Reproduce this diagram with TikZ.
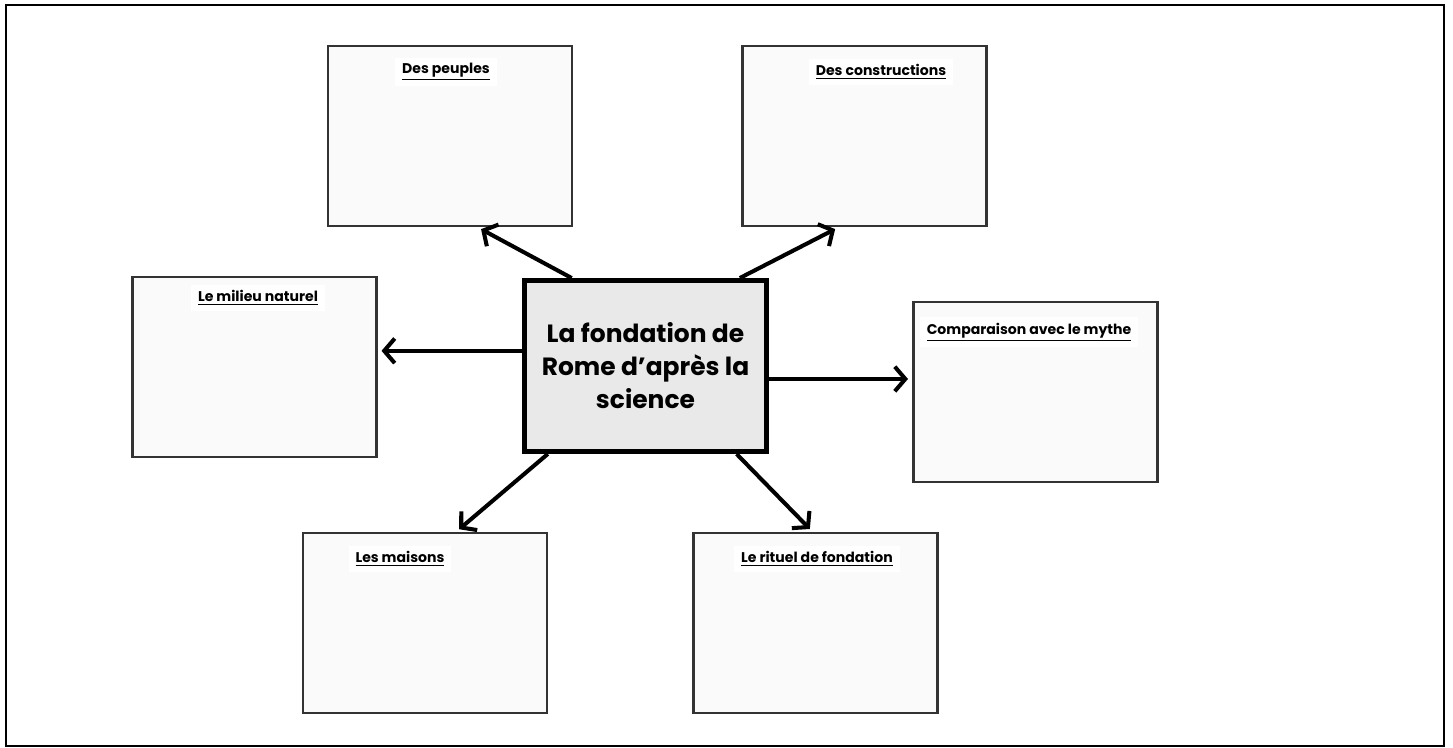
\documentclass[tikz,border=0pt]{standalone}
\usepackage{fontspec}
\setmainfont{Poppins}
\usetikzlibrary{arrows.meta}

\definecolor{boxgray}{HTML}{333333}
\definecolor{boxfill}{HTML}{FAFAFA}
\definecolor{mainfill}{HTML}{E9E9E9}

\begin{document}
\begin{tikzpicture}[
	box/.style={draw=boxgray, line width=1.7pt, fill=boxfill, minimum width=4.88cm, minimum height=3.6cm, inner sep=0pt},
	mainbox/.style={draw=black, line width=2.8pt, fill=mainfill, minimum width=4.84cm, minimum height=3.42cm, align=center, font=\fontsize{14.2}{18.8}\selectfont\bfseries},
	lbl/.style={fill=white, inner xsep=4pt, inner ysep=3pt, font=\fontsize{8}{9.5}\selectfont\bfseries},
	link/.style={line width=2.3pt, -{Straight Barb[length=6pt, width=14pt, line width=2.3pt]}, shorten >=2pt}
	]
	\useasboundingbox (0,0) rectangle (29.06,14.94);
	\draw[line width=1.2pt] (0.12,0.02) rectangle (28.88,14.84);

	\node[mainbox] (c) at (12.91,7.62) {La fondation de\\Rome d'après la\\science};
		\node[box] (peuples) at (9.0,12.22) {};
		\node[box] (construct) at (17.29,12.22) {};
	\node[box] (milieu) at (5.09,7.6) {};
	\node[box] (mythe) at (20.7,7.1) {};
		\node[box] (maisons) at (8.5,2.48) {};
		\node[box] (rituel) at (16.31,2.48) {};

	\node[lbl] (peuples-t) at (8.92,13.5) {\underline{Des peuples}};
	\node[lbl] (construct-t) at (17.62,13.5) {\underline{Des constructions}};
	\node[lbl] (milieu-t) at (5.16,8.98) {\underline{Le milieu naturel}};
	\node[lbl] (mythe-t) at (20.58,8.3) {\underline{Comparaison avec le mythe}};
	\node[lbl] (maisons-t) at (8.0,3.76) {\underline{Les maisons}};
	\node[lbl] (rituel-t) at (16.34,3.76) {\underline{Le rituel de fondation}};

	\draw [link] (c.130) -- (peuples.287);
	\draw [link] (c.43) -- (construct.254);
	\draw [link] (c.173.5) -- (c.173.5 -| milieu.east);
	\draw [link] (c.354.4) -- (c.354.4 -| mythe.west);
	\draw [link] (c.222.4) -- (maisons.71.6);
	\draw [link] (c.316.7) -- (rituel.92.2);
\end{tikzpicture}
\end{document}
